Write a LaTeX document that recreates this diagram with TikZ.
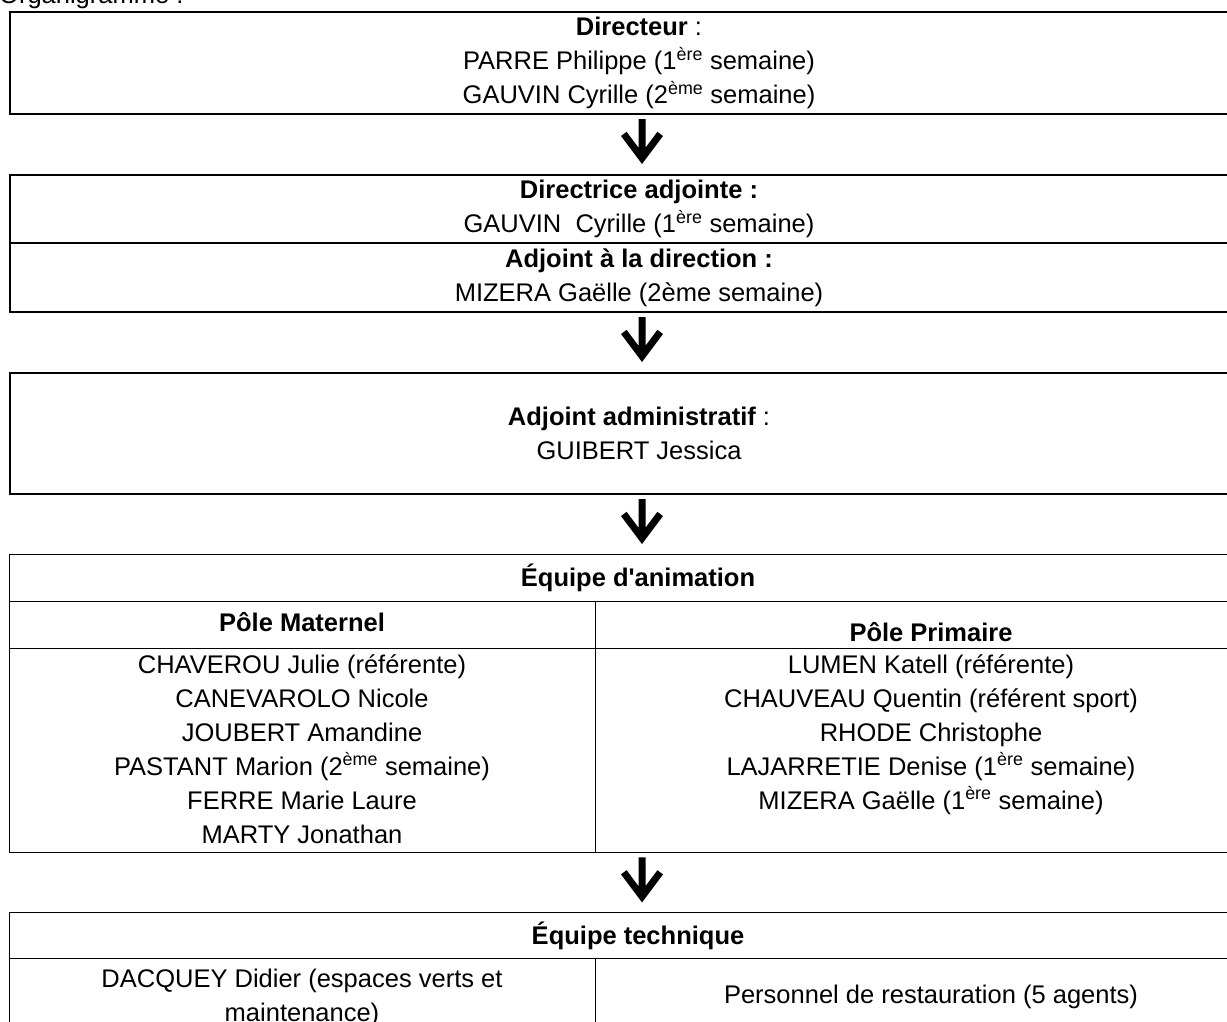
\documentclass[tikz,border=0pt]{standalone}
\usepackage{fontspec}
\setmainfont{Liberation Sans}
\usetikzlibrary{calc}
\newcommand{\orgfont}{\fontsize{25.5}{34}\selectfont}
\tikzset{
  box/.style={draw, line width=2pt, inner sep=0pt, align=center, anchor=north west, font=\orgfont},
  cell/.style={draw, line width=1.4pt, inner sep=0pt, anchor=north west},
  txt/.style={inner sep=0pt, anchor=base, align=center, font=\orgfont},
  downarr/.pic={\fill[black] (-3.5,0) -- (3.5,0) -- (3.5,28.7) -- (15.4,12.8) -- (21,17) -- (0,45) -- (-21,17) -- (-15.4,12.8) -- (-3.5,28.7) -- cycle;}
}
\begin{document}
\begin{tikzpicture}[x=1pt,y=-1pt]
\useasboundingbox (0,0) rectangle (1227,1021);
\node[txt, anchor=base west] (title) at (-1,3) {Organigramme :};
% boxes
\node[box, minimum width=1258pt, minimum height=102pt] (b1) at (9,11)
  {\textbf{Directeur} :\\PARRE Philippe (1\textsuperscript{ère} semaine)\\GAUVIN Cyrille (2\textsuperscript{ème} semaine)};
\node[box, minimum width=1258pt, minimum height=68pt] (b2a) at (9,174)
  {\textbf{Directrice adjointe :}\\GAUVIN~ Cyrille (1\textsuperscript{ère} semaine)};
\node[box, minimum width=1258pt, minimum height=69pt] (b2b) at (9,242)
  {\textbf{Adjoint à la direction :}\\MIZERA Gaëlle (2ème semaine)};
\node[box, minimum width=1258pt, minimum height=121pt] (b3) at (9,372)
  {\textbf{Adjoint administratif} :\\GUIBERT Jessica};
% animation table
\node[cell, minimum width=1258pt, minimum height=47pt] (anih) at (9,554) {};
\node[cell, minimum width=586pt, minimum height=47pt] (pmc) at (9,601) {};
\node[cell, minimum width=672pt, minimum height=47pt] (ppc) at (595,601) {};
\node[cell, minimum width=586pt, minimum height=204pt] (lmc) at (9,648) {};
\node[cell, minimum width=672pt, minimum height=204pt] (lpc) at (595,648) {};
\node[txt] (anit) at (638,586) {\textbf{Équipe d\textquotesingle animation}};
\node[txt] (pmt) at (302,631) {\textbf{Pôle Maternel}};
\node[txt] (ppt) at (931,641) {\textbf{Pôle Primaire}};
\node[txt] (lmt) at (302,843) {CHAVEROU Julie (référente)\\CANEVAROLO Nicole\\JOUBERT Amandine\\PASTANT Marion (2\textsuperscript{ème} semaine)\\FERRE Marie Laure\\MARTY Jonathan};
\node[txt] (lpt) at (931,809) {LUMEN Katell (référente)\\CHAUVEAU Quentin (référent sport)\\RHODE Christophe\\LAJARRETIE Denise (1\textsuperscript{ère} semaine)\\MIZERA Gaëlle (1\textsuperscript{ère} semaine)};
% technical table
\node[cell, minimum width=1258pt, minimum height=46pt] (teh) at (9,912) {};
\node[cell, minimum width=586pt, minimum height=100pt] (tlc) at (9,958) {};
\node[cell, minimum width=672pt, minimum height=100pt] (trc) at (595,958) {};
\node[txt] (tet) at (638,944) {\textbf{Équipe technique}};
\node[txt] (tlt) at (302,1021) {DACQUEY Didier (espaces verts et\\maintenance)};
\node[txt] (trt) at (931,1003) {Personnel de restauration (5 agents)};
% arrows
\coordinate (ax) at (642,0);
\pic at ($(ax |- b1.south)+(0,4)$) {downarr};
\pic at ($(ax |- b2b.south)+(0,4)$) {downarr};
\pic at ($(ax |- b3.south)+(0,4)$) {downarr};
\pic at ($(ax |- lmc.south)+(0,4)$) {downarr};
\end{tikzpicture}
\end{document}
